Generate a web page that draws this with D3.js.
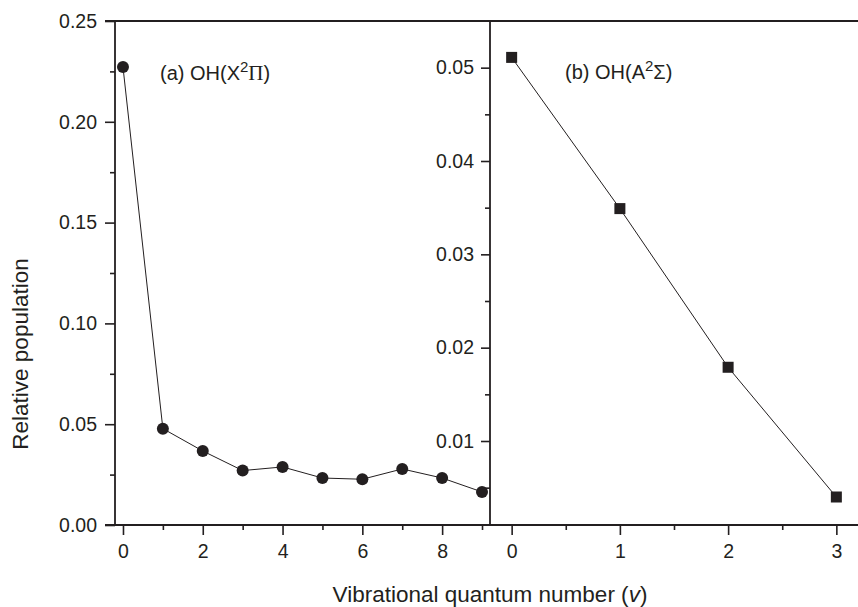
<!DOCTYPE html>
<html>
<head>
<meta charset="utf-8">
<script src="https://cdn.jsdelivr.net/npm/d3@7"></script>
<style>
  html, body { margin: 0; padding: 0; background: #fff; }
  svg { display: block; font-family: "Liberation Sans", Arial, Helvetica, sans-serif; }
</style>
</head>
<body>
<svg id="chart" width="858" height="607"></svg>
<script>
// Vibrational levels and relative populations
const levelsX = [0, 1, 2, 3, 4, 5, 6, 7, 8, 9];
const popX = [0.2272, 0.0478, 0.0367, 0.0270, 0.0288, 0.0233, 0.0227, 0.0278, 0.0233, 0.0164];
const levelsA = [0, 1, 2, 3];
const popA = [0.0511, 0.0349, 0.0179, 0.0040];

// Tick values
const xTicksLeft = [0, 2, 4, 6, 8];
const xMinorLeft = [1, 3, 5, 7, 9];
const yTicksLeft = [0, 0.05, 0.10, 0.15, 0.20, 0.25];
const yMinorLeft = [0.025, 0.075, 0.125, 0.175, 0.225];
const xTicksRight = [0, 1, 2, 3];
const xMinorRight = [0.5, 1.5, 2.5];
const yTicksRight = [0.01, 0.02, 0.03, 0.04, 0.05];
const yMinorRight = [0.005, 0.015, 0.025, 0.035, 0.045];

const ink = "#231f20";
const svg = d3.select("#chart");

const plotTop = 21, plotBottom = 525, plotLeft = 115, plotMid = 490, plotRight = 858;

const xL = d3.scaleLinear().domain([-0.2, 9.2]).range([plotLeft, plotMid]);
const yL = d3.scaleLinear().domain([0, 0.25]).range([plotBottom, plotTop]);
const xR = d3.scaleLinear().domain([-0.2, 3.2]).range([plotMid, plotRight]);
const yR = d3.scaleLinear().domain([0.001, 0.055]).range([plotBottom, plotTop]);

function styleAxis(g, fontSize) {
  g.select(".domain").remove();
  g.selectAll(".tick line").attr("stroke", ink).attr("stroke-width", 1.6);
  g.selectAll(".tick text").attr("fill", ink).style("font-size", fontSize + "px")
    .style("font-family", "'Liberation Sans', Arial, sans-serif");
}

const tickFont = 19.5;

// Left panel axes
svg.append("g").attr("transform", `translate(${plotLeft},0)`)
  .call(d3.axisLeft(yL).tickValues(yTicksLeft).tickFormat(d3.format(".2f")).tickSize(10).tickPadding(8))
  .call(g => styleAxis(g, tickFont));
svg.append("g").attr("transform", `translate(${plotLeft},0)`)
  .call(d3.axisLeft(yL).tickValues(yMinorLeft).tickFormat("").tickSize(5))
  .call(g => styleAxis(g, tickFont));
svg.append("g").attr("transform", `translate(0,${plotBottom})`)
  .call(d3.axisBottom(xL).tickValues(xTicksLeft).tickFormat(d3.format("d")).tickSize(10).tickPadding(9))
  .call(g => styleAxis(g, tickFont));
svg.append("g").attr("transform", `translate(0,${plotBottom})`)
  .call(d3.axisBottom(xL).tickValues(xMinorLeft).tickFormat("").tickSize(5))
  .call(g => styleAxis(g, tickFont));

// Right panel axes
svg.append("g").attr("transform", `translate(${plotMid},0)`)
  .call(d3.axisLeft(yR).tickValues(yTicksRight).tickFormat(d3.format(".2f")).tickSize(9).tickPadding(7))
  .call(g => styleAxis(g, tickFont));
svg.append("g").attr("transform", `translate(${plotMid},0)`)
  .call(d3.axisLeft(yR).tickValues(yMinorRight).tickFormat("").tickSize(5))
  .call(g => styleAxis(g, tickFont));
svg.append("g").attr("transform", `translate(0,${plotBottom})`)
  .call(d3.axisBottom(xR).tickValues(xTicksRight).tickFormat(d3.format("d")).tickSize(10).tickPadding(9))
  .call(g => styleAxis(g, tickFont));
svg.append("g").attr("transform", `translate(0,${plotBottom})`)
  .call(d3.axisBottom(xR).tickValues(xMinorRight).tickFormat("").tickSize(5))
  .call(g => styleAxis(g, tickFont));

// Frame lines
const frame = svg.append("g").attr("stroke", ink).attr("stroke-width", 1.8).attr("fill", "none");
frame.append("line").attr("x1", plotLeft - 10).attr("x2", plotRight).attr("y1", plotTop).attr("y2", plotTop);
frame.append("line").attr("x1", plotLeft - 10).attr("x2", plotRight).attr("y1", plotBottom).attr("y2", plotBottom);
frame.append("line").attr("x1", plotLeft).attr("x2", plotLeft).attr("y1", plotTop).attr("y2", plotBottom);
frame.append("line").attr("x1", plotMid).attr("x2", plotMid).attr("y1", plotTop).attr("y2", plotBottom);

// Panel (a): ground state
const dataX = levelsX.map((v, i) => ({ v, p: popX[i] }));
svg.append("path").datum(dataX)
  .attr("fill", "none").attr("stroke", ink).attr("stroke-width", 1)
  .attr("d", d3.line().x(d => xL(d.v)).y(d => yL(d.p)));
svg.append("g").selectAll("circle").data(dataX).join("circle")
  .attr("cx", d => xL(d.v)).attr("cy", d => yL(d.p)).attr("r", 6).attr("fill", ink);

// Panel (b): excited state
const dataA = levelsA.map((v, i) => ({ v, p: popA[i] }));
svg.append("path").datum(dataA)
  .attr("fill", "none").attr("stroke", ink).attr("stroke-width", 1)
  .attr("d", d3.line().x(d => xR(d.v)).y(d => yR(d.p)));
const sq = 11;
svg.append("g").selectAll("rect").data(dataA).join("rect")
  .attr("x", d => xR(d.v) - sq / 2).attr("y", d => yR(d.p) - sq / 2)
  .attr("width", sq).attr("height", sq).attr("fill", ink);

// Panel labels
const la = svg.append("text").attr("x", 160).attr("y", 80).attr("fill", ink).style("font-size", "20px");
la.append("tspan").text("(a) OH(X");
la.append("tspan").text("2").attr("dy", -8).style("font-size", "15px");
la.append("tspan").text("Π").attr("dy", 8).style("font-family", "'Liberation Serif', serif").style("font-size", "21px");
la.append("tspan").text(")");

const lb = svg.append("text").attr("x", 565).attr("y", 79).attr("fill", ink).style("font-size", "20px");
lb.append("tspan").text("(b) OH(A");
lb.append("tspan").text("2").attr("dy", -8).style("font-size", "15px");
lb.append("tspan").text("Σ").attr("dy", 8);
lb.append("tspan").text(")");

// Axis titles
const xt = svg.append("text").attr("x", 490).attr("y", 602).attr("text-anchor", "middle")
  .attr("fill", ink).style("font-size", "22.5px");
xt.append("tspan").text("Vibrational quantum number (");
xt.append("tspan").text("v").style("font-style", "italic");
xt.append("tspan").text(")");

svg.append("text").attr("transform", "translate(28,354) rotate(-90)")
  .attr("text-anchor", "middle").attr("fill", ink).style("font-size", "22.5px")
  .text("Relative population");
</script>
</body>
</html>
